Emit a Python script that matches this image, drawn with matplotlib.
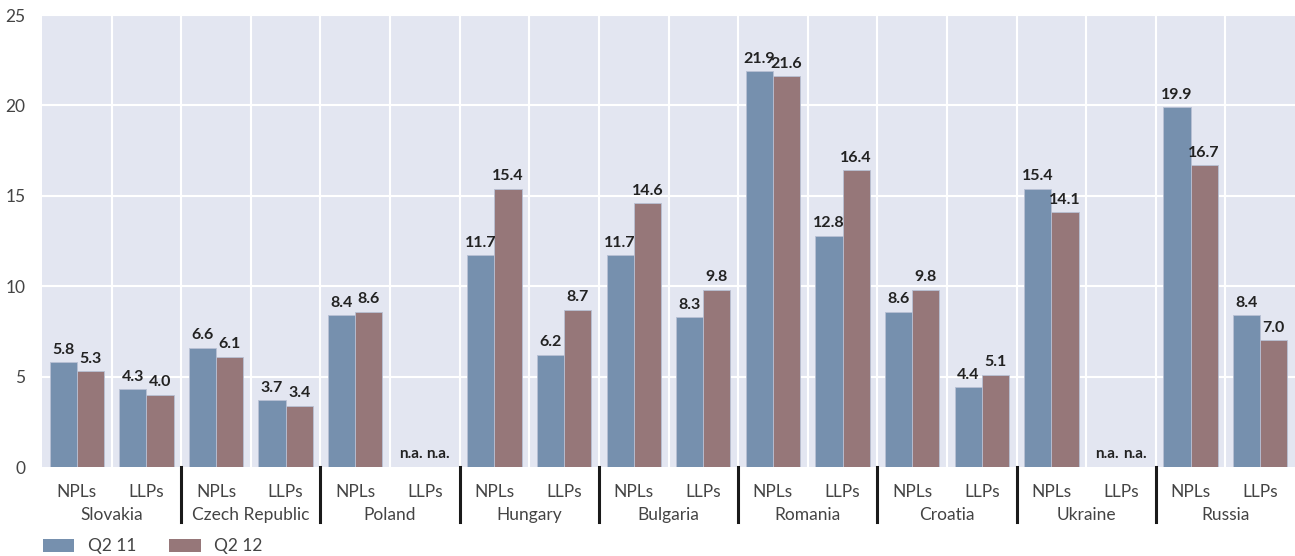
import numpy as np
import matplotlib.pyplot as plt
from matplotlib.patches import Patch

plt.rcParams['font.family'] = ['Lato', 'DejaVu Sans']

# -------------------------------
# Data
# -------------------------------
countries = ["Slovakia", "Czech Republic", "Poland", "Hungary", "Bulgaria",
             "Romania", "Croatia", "Ukraine", "Russia"]
measures = ["NPLs", "LLPs"]
# None = n.a.
q2_11 = [5.8, 4.3, 6.6, 3.7, 8.4, None, 11.7, 6.2, 11.7, 8.3,
         21.9, 12.8, 8.6, 4.4, 15.4, None, 19.9, 8.4]
q2_12 = [5.3, 4.0, 6.1, 3.4, 8.6, None, 15.4, 8.7, 14.6, 9.8,
         21.6, 16.4, 9.8, 5.1, 14.1, None, 16.7, 7.0]
series_names = ["Q2 11", "Q2 12"]

blue = "#7690ae"
red = "#967779"
bg = "#e3e6f1"
txt = "#444444"

# -------------------------------
# Plot
# -------------------------------
fig = plt.figure(figsize=(12.95, 5.56), dpi=100)
ax = fig.add_axes([42 / 1295, 1 - 467 / 556, 1253 / 1295, (467 - 15) / 556])
ax.set_facecolor(bg)

n = len(q2_11)
x = np.arange(n)
w = 0.39

for vals, off, col in [(q2_11, -w / 2, blue), (q2_12, w / 2, red)]:
    for xi, v in zip(x, vals):
        if v is None:
            ax.text(xi + off, 0.35, "n.a.", ha="center", va="bottom",
                    fontsize=11, fontweight="bold", color="#222222")
            continue
        ax.bar(xi + off, v, width=w, color=col, edgecolor="#b8c0d4",
               linewidth=0.6, zorder=3)
        ax.text(xi + off, v + 0.3, f"{v:.1f}", ha="center", va="bottom",
                fontsize=11.5, fontweight="bold", color="#222222", zorder=4)

ax.set_xlim(-0.5, n - 0.5)
ax.set_ylim(0, 25)
ax.set_yticks(np.arange(0, 26, 5))
ax.tick_params(axis="y", length=0, labelsize=12.5, labelcolor=txt, pad=12)
ax.set_xticks([])

# white grid lines
for yv in np.arange(5, 26, 5):
    ax.axhline(yv, color="white", linewidth=1.5, zorder=1)
for xv in np.arange(0.5, n - 0.5, 1):
    ax.axvline(xv, color="white", linewidth=1.5, zorder=1)

for s in ax.spines.values():
    s.set_visible(False)

# category labels below
for xi in x:
    ax.text(xi, -0.95, measures[xi % 2], ha="center", va="top", fontsize=12.5,
            color=txt, clip_on=False)
for i, c in enumerate(countries):
    ax.text(2 * i + 0.5, -2.2, c, ha="center", va="top", fontsize=12.5,
            color=txt, clip_on=False)

# group separators
for i in range(1, len(countries)):
    ax.plot([2 * i - 0.5, 2 * i - 0.5], [0, -3.05], color="#1a1a1a",
            linewidth=2.2, clip_on=False, zorder=5)

handles = [Patch(facecolor=blue, label=series_names[0]),
           Patch(facecolor=red, label=series_names[1])]
fig.legend(handles=handles, loc="lower left", bbox_to_anchor=(0.021, -0.025),
           ncol=2, frameon=False, fontsize=12.5, handlelength=1.8,
           handleheight=0.8, columnspacing=1.9, handletextpad=0.8,
           labelcolor=txt)

fig.savefig("out.png", dpi=100)
